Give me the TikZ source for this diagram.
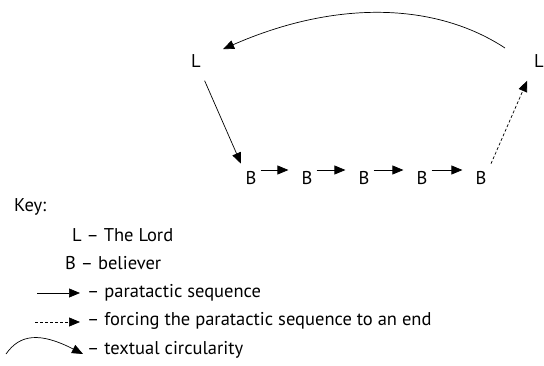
\documentclass[tikz,border=0pt]{standalone}
\usepackage{fontspec}
\setmainfont{PT Sans}
\usetikzlibrary{arrows.meta}
\begin{document}
\begin{tikzpicture}[x=1pt,y=-1pt,
  lbl/.style={font=\fontsize{18.5}{22}\selectfont, inner sep=2pt},
  keytxt/.style={lbl, anchor=west},
  arr/.style={-{Triangle[length=11pt,width=9pt]}, line width=0.7pt},
  darr/.style={arr, dashed, dash pattern=on 3pt off 2pt}]
\useasboundingbox (0,0) rectangle (544,365);
% top diagram
\node[lbl] (Lleft) at (196,61) {L};
\node[lbl] (Lright) at (539,61) {L};
\node[lbl] (B1) at (251,178) {B};
\node[lbl] (B2) at (307,178) {B};
\node[lbl] (B3) at (364,178) {B};
\node[lbl] (B4) at (422,178) {B};
\node[lbl] (B5) at (481,178) {B};
\coordinate (cS) at (505,48);
\draw[arr, shorten >=22pt] (cS) .. controls (435,2) and (335,0) .. (Lleft);
\draw[arr, shorten <=12pt, shorten >=6pt] (Lleft) -- (B1.north west);
\draw[darr, shorten <=6pt, shorten >=12pt] (B5.north east) -- (Lright.south west);
\foreach \a/\b in {B1/B2,B2/B3,B3/B4,B4/B5}
  \draw[arr, shorten <=2pt, shorten >=11pt, transform canvas={yshift=8pt}] (\a) -- (\b);
% key
\node[keytxt] (key) at (12,207) {Key:};
\node[keytxt] (kL) at (70,235) {L – The Lord};
\node[keytxt] (kB) at (63,263) {B – believer};
\node[keytxt] (kP) at (85,293) {– paratactic sequence};
\node[keytxt] (kF) at (85,321) {– forcing the paratactic sequence to an end};
\node[keytxt] (kT) at (85,350) {– textual circularity};
\coordinate (p1) at (37,293);
\coordinate (p2) at (80,293);
\coordinate (f1) at (35,322);
\coordinate (f2) at (80,322);
\coordinate (t1) at (6,354);
\coordinate (t2) at (83,354);
\draw[arr] (p1) -- (p2);
\draw[darr] (f1) -- (f2);
\draw[arr] (t1) .. controls (20,334) and (40,332) .. (t2);
\end{tikzpicture}
\end{document}
